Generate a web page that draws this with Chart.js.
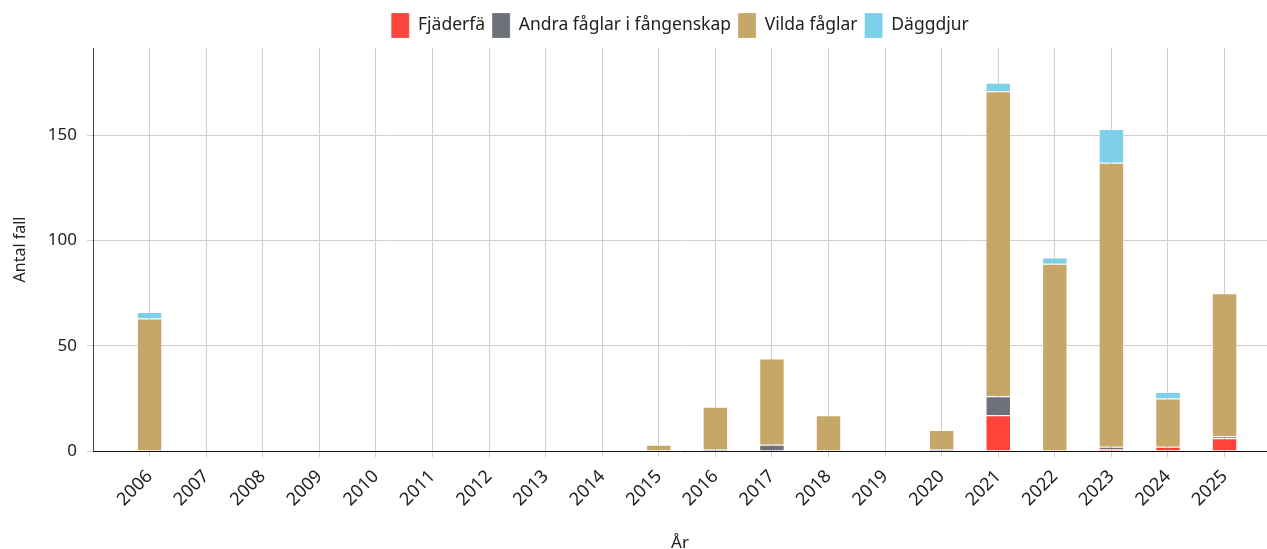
<!DOCTYPE html>
<html lang="sv">
<head>
<meta charset="utf-8">
<title>Antal fall per år</title>
<script src="https://cdn.jsdelivr.net/npm/chart.js@4/dist/chart.umd.min.js"></script>
<style>
  html, body { margin: 0; padding: 0; background: #fff; }
  #wrap { position: relative; width: 1267px; height: 549px; }
</style>
</head>
<body>
<div id="wrap"><canvas id="chart"></canvas></div>
<script>
// ── Data ───────────────────────────────────────────────────────────────
const years = [2006, 2007, 2008, 2009, 2010, 2011, 2012, 2013, 2014, 2015,
               2016, 2017, 2018, 2019, 2020, 2021, 2022, 2023, 2024, 2025];
const fjaderfa = [0, 0, 0, 0, 0, 0, 0, 0, 0, 0, 0, 0, 0, 0, 0, 17, 0, 1, 2, 6];
const andraFaglar = [0, 0, 0, 0, 0, 0, 0, 0, 0, 0, 1, 3, 0, 0, 1, 9, 0, 1, 0, 1];
const vildaFaglar = [63, 0, 0, 0, 0, 0, 0, 0, 0, 3, 20, 41, 17, 0, 9, 145, 89, 135, 23, 68];
const daggdjur = [3, 0, 0, 0, 0, 0, 0, 0, 0, 0, 0, 0, 0, 0, 0, 4, 3, 16, 3, 0];
const yTicks = [0, 50, 100, 150];

const SERIES = [
  { label: 'Fjäderfä', values: fjaderfa, color: '#fd433a' },
  { label: 'Andra fåglar i fångenskap', values: andraFaglar, color: '#6e717a' },
  { label: 'Vilda fåglar', values: vildaFaglar, color: '#c6a768' },
  { label: 'Däggdjur', values: daggdjur, color: '#7ecfea' }
];

Chart.defaults.font.family = "'Noto Sans', sans-serif";
Chart.defaults.color = '#222';

const datasets = SERIES.map(s => ({
  label: s.label,
  data: years.map((y, i) => ({ x: y, y: s.values[i] })),
  backgroundColor: s.color,
  borderColor: 'rgba(255,255,255,0.2)',
  borderWidth: 1,
  categoryPercentage: 0.5,
  barPercentage: 0.9
}));

// legend is centred over the plot area, not the whole canvas
const legendShift = {
  id: 'legendShift',
  afterLayout(chart) {
    const dx = (chart.chartArea.left + chart.chartArea.right) / 2 - chart.width / 2;
    chart.legend.left += dx;
    chart.legend.right += dx;
  }
};

new Chart(document.getElementById('chart'), {
  type: 'bar',
  data: { datasets },
  plugins: [legendShift],
  options: {
    responsive: true,
    maintainAspectRatio: false,
    animation: false,
    layout: { padding: { top: 6, right: 0, bottom: 0, left: 0 } },
    plugins: {
      tooltip: { enabled: false },
      legend: {
        position: 'top',
        labels: {
          boxWidth: 18,
          boxHeight: 25,
          padding: 7,
          font: { size: 17.5 },
          color: '#222'
        }
      }
    },
    scales: {
      x: {
        type: 'linear',
        stacked: true,
        offset: false,
        min: 2005,
        max: 2025.75,
        afterBuildTicks: scale => { scale.ticks = years.map(v => ({ value: v })); },
        afterFit: scale => { scale.height = 98; },
        ticks: {
          callback: v => String(v),
          minRotation: 45,
          maxRotation: 45,
          autoSkip: false,
          padding: 9,
          font: { size: 18 },
          color: '#222'
        },
        grid: { color: '#cfcfcf', tickLength: 6, offset: false },
        border: { color: '#111', width: 1 },
        title: {
          display: true,
          text: 'År',
          font: { size: 17 },
          color: '#222',
          padding: { top: 0, bottom: -4 }
        }
      },
      y: {
        stacked: true,
        min: 0,
        max: 191.5,
        afterBuildTicks: scale => { scale.ticks = yTicks.map(v => ({ value: v })); },
        afterFit: scale => { scale.width = 93; },
        ticks: { padding: 10, font: { size: 17 }, color: '#222' },
        grid: { color: '#cfcfcf', tickLength: 6 },
        border: { color: '#444', width: 1 },
        title: {
          display: true,
          text: 'Antal fall',
          font: { size: 16 },
          color: '#222',
          padding: { top: 11, bottom: 0 }
        }
      }
    }
  }
});
</script>
</body>
</html>
